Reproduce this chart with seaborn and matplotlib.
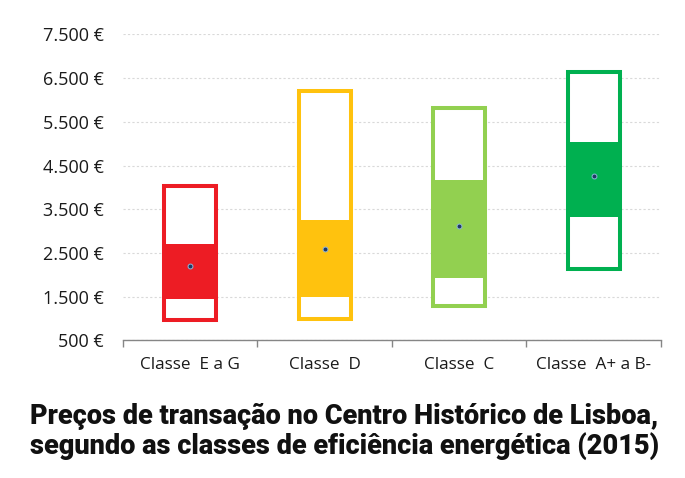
import matplotlib
matplotlib.use("Agg")
import matplotlib.pyplot as plt
from matplotlib.ticker import FuncFormatter, FixedLocator
import seaborn as sns
import pandas as pd

categories = ["Classe  E a G", "Classe  D", "Classe  C", "Classe  A+ a B-"]
price_min = [960, 990, 1280, 2130]
price_max = [4030, 6200, 5810, 6640]
q1 = [1435, 1495, 1937, 3320]
q3 = [2713, 3244, 4179, 5046]
mean = [2200, 2600, 3120, 4255]
colors = ["#ED1C24", "#FFC20E", "#92D050", "#00B050"]
yticks = [500, 1500, 2500, 3500, 4500, 5500, 6500, 7500]
title = ("Preços de transação no Centro Histórico de Lisboa,\n"
         "segundo as classes de eficiência energética (2015)")

sns.set_theme(style="white")
plt.rcParams["font.family"] = ["Open Sans", "DejaVu Sans"]

df = pd.DataFrame({
    "cat": categories,
    "range": [b - a for a, b in zip(price_min, price_max)],
    "iqr": [b - a for a, b in zip(q1, q3)],
    "mean": mean,
})

fig = plt.figure(figsize=(6.85, 4.78), dpi=100)
ax = fig.add_axes([0.1796, 0.288, 0.785, 0.640])

# outer boxes (min-max)
sns.barplot(data=df, x="cat", y="range", bottom=price_min, order=categories,
            errorbar=None, width=0.387, color="white", saturation=1,
            linewidth=2.9, ax=ax, zorder=2)
n_outer = len(ax.patches)
for p, c in zip(ax.patches[:n_outer], colors):
    p.set_facecolor("white")
    p.set_edgecolor(c)

# inner filled boxes (q1-q3)
sns.barplot(data=df, x="cat", y="iqr", bottom=q1, order=categories,
            errorbar=None, width=0.417, color="grey", saturation=1,
            linewidth=0, ax=ax, zorder=3)
for p, c in zip(ax.patches[n_outer:], colors):
    p.set_facecolor(c)

# mean points
sns.stripplot(data=df, x="cat", y="mean", order=categories, jitter=False,
              color="#1F3864", edgecolor="#8DB4D9", linewidth=0.7, size=3.5,
              ax=ax, zorder=4)

ax.set_xlim(-0.5, 3.5)
ax.set_ylim(500, 7500)
ax.yaxis.set_major_locator(FixedLocator(yticks))
ax.yaxis.set_major_formatter(FuncFormatter(lambda v, _: f"{int(v):,} €".replace(",", ".")))
ax.set_axisbelow(True)
ax.grid(axis="y", color="#D9D9D9", linestyle=(0, (2, 2)), linewidth=0.8, zorder=0)
ax.grid(axis="x", visible=False)

for s in ["top", "right", "left"]:
    ax.spines[s].set_visible(False)
ax.spines["bottom"].set_color("#868686")
ax.spines["bottom"].set_linewidth(1.0)

ax.set_xticks(range(len(categories)))
ax.set_xticklabels(categories)
ax.set_xticks([-0.5, 0.5, 1.5, 2.5, 3.5], minor=True)
ax.tick_params(axis="x", which="major", length=0, pad=12, labelsize=12.3, labelcolor="#1a1a1a")
ax.tick_params(axis="x", which="minor", length=5, width=1, color="#868686", direction="out", bottom=True)
ax.tick_params(axis="y", length=0, pad=14, labelsize=13, labelcolor="#1a1a1a")
ax.set_xlabel("")
ax.set_ylabel("")

fig.text(0.503, 0.097, title, ha="center", va="center", fontsize=19.5,
         fontweight="black", family=["Roboto", "DejaVu Sans"], color="#111111",
         linespacing=1.12)

fig.savefig("out.png", dpi=100, facecolor="white")
